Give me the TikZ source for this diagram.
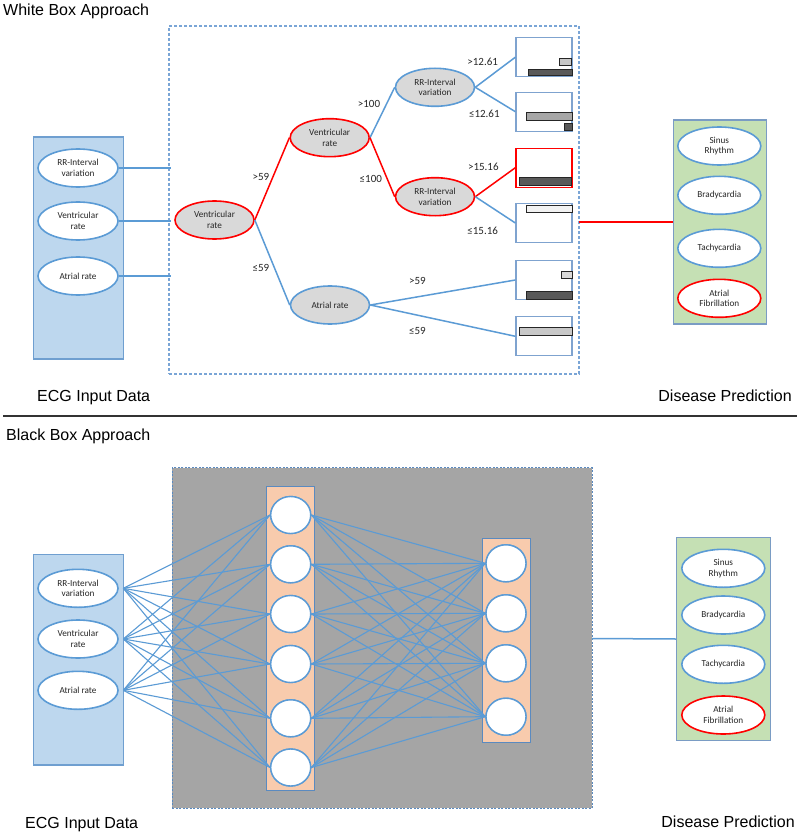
\documentclass[tikz,border=0pt]{standalone}
\usepackage{fontspec}
\setmainfont{Liberation Sans}
\newfontfamily\calfont{Carlito}
\usetikzlibrary{shapes.geometric}
\definecolor{ublue}{HTML}{5B9BD5}
\definecolor{inblue}{HTML}{BDD7EE}
\definecolor{inborder}{HTML}{6F9FD0}
\definecolor{ogreen}{HTML}{C5E0B4}
\definecolor{oborder}{HTML}{7A9CC4}
\definecolor{lgray}{HTML}{D9D9D9}
\definecolor{bggray}{HTML}{A5A5A5}
\definecolor{peach}{HTML}{F8CBAD}
\definecolor{dashblue}{HTML}{7AA5D6}
\definecolor{leafborder}{HTML}{7FA3CF}
\definecolor{darkbar}{HTML}{595959}
\definecolor{midbar}{HTML}{A6A6A6}
\definecolor{lightbar}{HTML}{C8C8C8}
\definecolor{palebar}{HTML}{F2F2F2}
\definecolor{boxline}{HTML}{5A8AC0}
\definecolor{ared}{HTML}{FF0000}
\begin{document}
\begin{tikzpicture}[x=1pt,y=-1pt,
  title/.style={font=\fontsize{16}{19}\selectfont, inner sep=0pt},
  ell/.style={ellipse, draw=ublue, fill=white, line width=1.6pt, minimum width=80pt, minimum height=38pt, inner sep=0pt, align=center, text=black!85, font=\calfont\fontsize{9.2}{10.8}\selectfont},
  redell/.style={ell, draw=ared},
  treeell/.style={ell, fill=lgray, minimum width=79pt},
  redtree/.style={treeell, draw=ared},
  outell/.style={ell, minimum width=83pt},
  lbl/.style={font=\calfont\fontsize{11}{13}\selectfont, inner sep=0pt, text=black!85},
  bl/.style={draw=ublue, line width=1.5pt},
  rl/.style={draw=ared, line width=1.5pt},
  inbox/.style={draw=inborder, fill=inblue, line width=1.2pt, minimum width=90pt, inner sep=0pt},
  outbox/.style={draw=oborder, fill=ogreen, line width=1.2pt, minimum width=93.5pt, minimum height=204pt, inner sep=0pt},
  leaf/.style={draw=leafborder, fill=white, line width=1.3pt, minimum width=56pt, minimum height=39pt, inner sep=0pt},
  redleaf/.style={leaf, draw=ared},
  bar/.style={draw=black!85, line width=0.7pt},
  layer/.style={draw=boxline, fill=peach, line width=1pt, minimum width=48pt, inner sep=0pt},
  neuron/.style={ellipse, draw=ublue, fill=white, line width=1.4pt, minimum width=40pt, minimum height=37pt, inner sep=0pt},
  nl/.style={draw=ublue, line width=1.1pt}
]
\useasboundingbox (0,0) rectangle (800,834);
\fill[white] (0,0) rectangle (800,834);

% ---------------- titles ----------------
\node[title, anchor=base west] (tw) at (3,15.5) {White Box Approach};
\node[title, anchor=base west] (ecg1) at (37,401) {ECG Input Data};
\node[title, anchor=base east] (dp1) at (792,401) {Disease Prediction};
\coordinate (sepL) at (3,416);
\coordinate (sepR) at (797,416);
\draw[line width=1.1pt, black!80] (sepL) -- (sepR);
\node[title, anchor=base west] (tb) at (6,440) {Black Box Approach};
\node[title, anchor=base west] (ecg2) at (25,828) {ECG Input Data};
\node[title, anchor=base east] (dp2) at (795,827) {Disease Prediction};

% ================= WHITE BOX =================
\node[draw=dashblue, line width=1.2pt, dash pattern=on 3pt off 2pt, minimum width=410pt, minimum height=348pt, inner sep=0pt] (wbox) at (374,200) {};

% input box
\node[inbox, minimum height=222pt] (inT) at (78.3,248) {};
\node[ell] (ti1) at (78,168) {RR-Interval\\variation};
\node[ell] (ti2) at (78,221) {Ventricular\\rate};
\node[ell] (ti3) at (78,276) {Atrial rate};
\coordinate (tc1) at (171,168);
\coordinate (tc2) at (171,221);
\coordinate (tc3) at (171,276);
\draw[bl] (ti1.east) -- (tc1);
\draw[bl] (ti2.east) -- (tc2);
\draw[bl] (ti3.east) -- (tc3);

% tree
\node[redtree] (root) at (214.5,220) {Ventricular\\rate};
\node[redtree] (vr2) at (329.7,137.7) {Ventricular\\rate};
\node[treeell] (atr) at (330,305) {Atrial rate};
\node[treeell] (rr1) at (435,87.3) {RR-Interval\\variation};
\node[redtree] (rr2) at (435,196.7) {RR-Interval\\variation};

\node[leaf] (L1) at (544,57.2) {};
\node[leaf] (L2) at (544,111.7) {};
\node[redleaf] (L3) at (544,167.7) {};
\node[leaf] (L4) at (544,223) {};
\node[leaf] (L5) at (544,280) {};
\node[leaf] (L6) at (544,336.3) {};

% bars
\filldraw[bar, fill=lightbar] (559.3,58.7) rectangle (571.7,65.7);
\filldraw[bar, fill=darkbar] (528.3,69) rectangle (572,75.7);
\filldraw[bar, fill=midbar] (526,112.7) rectangle (572,120);
\filldraw[bar, fill=darkbar] (564.3,123) rectangle (572,130);
\filldraw[bar, fill=darkbar] (519.3,177.7) rectangle (571,185.3);
\filldraw[bar, fill=palebar] (526.7,205.7) rectangle (572,212.7);
\filldraw[bar, fill=lgray] (561.7,271) rectangle (572,278.7);
\filldraw[bar, fill=darkbar] (526,291) rectangle (572,299);
\filldraw[bar, fill=lightbar] (519.3,327.3) rectangle (572,335);

% tree edges
\draw[rl] (root.east) -- (vr2.west);
\draw[bl] (root.east) -- (atr.west);
\draw[bl] (vr2.east) -- (rr1.west);
\draw[rl] (vr2.east) -- (rr2.west);
\draw[bl] (rr1.east) -- (L1.west);
\draw[bl] (rr1.east) -- (L2.west);
\draw[rl] (rr2.east) -- (L3.west);
\draw[bl] (rr2.east) -- (L4.west);
\draw[bl] (atr.east) -- (L5.west);
\draw[bl] (atr.east) -- (L6.west);

% edge labels
\node[lbl] (e1) at (261,177.3) {>59};
\node[lbl] (e2) at (261,267.7) {≤59};
\node[lbl] (e3) at (369,104.3) {>100};
\node[lbl] (e4) at (370.8,178.7) {≤100};
\node[lbl] (e5) at (482.7,62.3) {>12.61};
\node[lbl] (e6) at (484.3,114.3) {≤12.61};
\node[lbl] (e7) at (483.3,166.7) {>15.16};
\node[lbl] (e8) at (482.7,230.7) {≤15.16};
\node[lbl] (e9) at (417.5,281) {>59};
\node[lbl] (e10) at (417.5,330.7) {≤59};

% output box (top)
\node[outbox] (outT) at (720,222) {};
\node[outell] (to1) at (719.3,146) {Sinus\\Rhythm};
\node[outell] (to2) at (719.3,195.3) {Bradycardia};
\node[outell] (to3) at (719.3,248.3) {Tachycardia};
\node[outell, draw=ared] (to4) at (719.3,298.3) {Atrial\\Fibrillation};
\coordinate (wbR) at (579,222);
\draw[rl] (wbR) -- (outT.west);

% ================= BLACK BOX =================
\node[draw=boxline, fill=bggray, line width=1pt, dash pattern=on 2pt off 1.5pt, minimum width=419.7pt, minimum height=340.6pt, inner sep=0pt] (bbox) at (382.3,638) {};

\node[inbox, minimum height=210.7pt] (inB) at (78.3,659.7) {};
\node[ell] (bi1) at (78,588.3) {RR-Interval\\variation};
\node[ell] (bi2) at (78,639) {Ventricular\\rate};
\node[ell] (bi3) at (78,690.3) {Atrial rate};
\coordinate (bc1) at (123.3,588.3);
\coordinate (bc2) at (123.3,639);
\coordinate (bc3) at (123.3,690.3);

\node[layer, minimum height=304.3pt] (lay1) at (290.8,638.8) {};
\node[layer, minimum height=203.6pt] (lay2) at (506.2,640.5) {};

\foreach \i/\y in {1/515,2/564.3,3/614,4/664,5/718.3,6/767.5}
  \coordinate (h\i) at (290.7,\y);
\foreach \j/\y in {1/563.3,2/613.3,3/663.3,4/716.7}
  \coordinate (k\j) at (506,\y);
\foreach \i in {1,...,6}
  \node[neuron] (n\i) at (h\i) {};
\foreach \j in {1,...,4}
  \node[neuron] (m\j) at (k\j) {};

% connections
\foreach \a in {1,2,3}
  \foreach \i in {1,...,6}
    \draw[nl] (bc\a) -- (n\i.west);
\foreach \i in {1,...,6}
  \foreach \j in {1,...,4}
    \draw[nl] (n\i.east) -- (m\j.west);
% neurons on top of the connections
\foreach \i in {1,...,6}
  \node[neuron] (nn\i) at (h\i) {};
\foreach \j in {1,...,4}
  \node[neuron] (mm\j) at (k\j) {};

% output box (bottom)
\node[outbox, minimum width=94pt, minimum height=203.4pt] (outB) at (723.7,639) {};
\node[outell] (bo1) at (723.3,568.3) {Sinus\\Rhythm};
\node[outell] (bo2) at (723.3,615) {Bradycardia};
\node[outell] (bo3) at (723.3,664.3) {Tachycardia};
\node[outell, draw=ared] (bo4) at (723.3,715) {Atrial\\Fibrillation};
\coordinate (bbR) at (592.2,638.5);
\draw[bl] (bbR) -- (outB.west);
\end{tikzpicture}
\end{document}
